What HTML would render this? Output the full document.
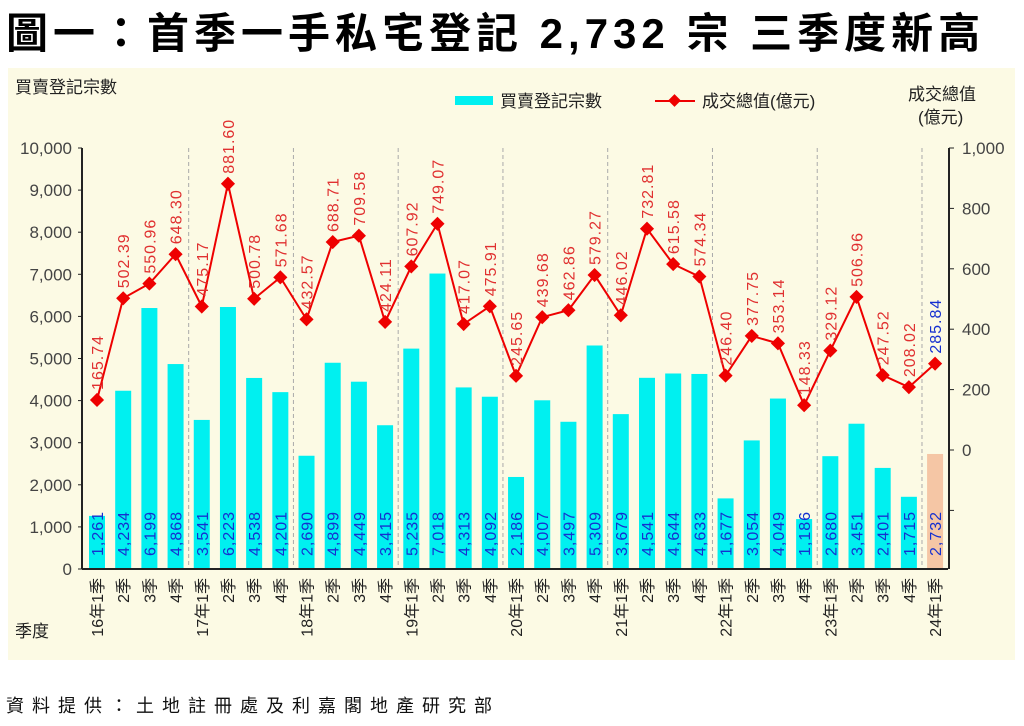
<!DOCTYPE html>
<html><head><meta charset="utf-8"><style>
body{margin:0;background:#fff;width:1024px;height:726px;overflow:hidden;font-family:"Liberation Sans","Noto Sans CJK TC",sans-serif;}
svg{display:block}
</style></head><body>
<svg id="s" width="1024" height="726" xmlns="http://www.w3.org/2000/svg" font-family="Liberation Sans, Noto Sans CJK TC, sans-serif">
<text x="6" y="48" font-size="42" font-weight="bold" fill="#000" letter-spacing="5" font-family="Liberation Sans, Noto Sans CJK TC, sans-serif">圖一：首季一手私宅登記 2,732 宗  三季度新高</text>
<rect x="8" y="68" width="1007" height="592" fill="#fcfae4"/>
<text x="15" y="93" font-size="17" fill="#222">買賣登記宗數</text>
<text x="908" y="100" font-size="17" fill="#222">成交總值</text>
<text x="918" y="123" font-size="17" fill="#222">(億元)</text>
<rect x="455" y="96" width="38" height="9" fill="#00f0f0"/>
<text x="500" y="107" font-size="17" fill="#222">買賣登記宗數</text>
<line x1="655" y1="101" x2="695" y2="101" stroke="#e00" stroke-width="2"/>
<rect x="670" y="96" width="9" height="9" fill="#e00" transform="rotate(45 674.5 100.5)"/>
<text x="702" y="107" font-size="17" fill="#222">成交總值(億元)</text>
<text x="15" y="637" font-size="17" fill="#222">季度</text>
<text x="6" y="712" font-size="18" fill="#111" letter-spacing="8">資料提供：土地註冊處及利嘉閣地產研究部</text>
<g id="g"></g>
</svg>
<script>
var bars=[1261,4234,6199,4868,3541,6223,4538,4201,2690,4899,4449,3415,5235,7018,4313,4092,2186,4007,3497,5309,3679,4541,4644,4633,1677,3054,4049,1186,2680,3451,2401,1715,2732];
var vals=["165.74","502.39","550.96","648.30","475.17","881.60","500.78","571.68","432.57","688.71","709.58","424.11","607.92","749.07","417.07","475.91","245.65","439.68","462.86","579.27","446.02","732.81","615.58","574.34","246.40","377.75","353.14","148.33","329.12","506.96","247.52","208.02","285.84"];
var h='';
var y0=569,ky=0.0421,ry0=450,rk=0.302,x0=97,dx=26.19;
function Y(v){return y0-v*ky}
function RY(v){return ry0-v*rk}
for(var i=4;i<33;i+=4){var x=x0+dx*(i-0.5);h+='<line x1="'+x+'" y1="148" x2="'+x+'" y2="569" stroke="#aaa" stroke-dasharray="4,3"/>';}
for(var i=0;i<33;i++){var x=x0+dx*i;var t=Y(bars[i]);
h+='<rect x="'+(x-8)+'" y="'+t+'" width="16" height="'+(y0-t)+'" fill="'+(i==32?'#f5c6a5':'#00f0f0')+'"/>';
h+='<text transform="translate('+(x+6)+',556) rotate(-90)" font-size="16" fill="#1530d0" letter-spacing="1">'+bars[i].toLocaleString('en-US')+'</text>';
var lab=(i%4==0?(16+i/4)+'年1季':(i%4+1)+'季');
h+='<text transform="translate('+(x+6)+',578) rotate(-90)" font-size="16" fill="#222" text-anchor="end">'+lab+'</text>';}
var pts=[];for(var i=0;i<33;i++)pts.push((x0+dx*i)+','+RY(+vals[i]));
h+='<polyline points="'+pts.join(' ')+'" fill="none" stroke="#e00" stroke-width="2"/>';
for(var i=0;i<33;i++){var x=x0+dx*i,y=RY(+vals[i]);
h+='<rect x="'+(x-5)+'" y="'+(y-5)+'" width="10" height="10" fill="#e00" transform="rotate(45 '+x+' '+y+')"/>';
h+='<text transform="translate('+(x+6)+','+(y-10)+') rotate(-90)" font-size="16" fill="'+(i==32?'#1530d0':'#e03030')+'" letter-spacing="1">'+vals[i]+'</text>';}
h+='<line x1="82" y1="148" x2="82" y2="569" stroke="#222" stroke-width="2"/><line x1="82" y1="569" x2="948" y2="569" stroke="#222" stroke-width="2"/>';
for(var v=0;v<=10000;v+=1000){var y=Y(v);h+='<line x1="78" y1="'+y+'" x2="82" y2="'+y+'" stroke="#222"/><text x="72" y="'+(y+6)+'" font-size="17" fill="#444" text-anchor="end">'+v.toLocaleString('en-US')+'</text>';}
h+='<line x1="949" y1="148" x2="949" y2="569" stroke="#222" stroke-width="2"/>';
for(var v=-200;v<=1000;v+=200){var y=RY(v);h+='<line x1="949" y1="'+y+'" x2="954" y2="'+y+'" stroke="#222"/>';if(v>=0)h+='<text x="962" y="'+(y+6)+'" font-size="17" fill="#444">'+v.toLocaleString('en-US')+'</text>';}
document.getElementById('g').innerHTML=h;
</script>
</body></html>
